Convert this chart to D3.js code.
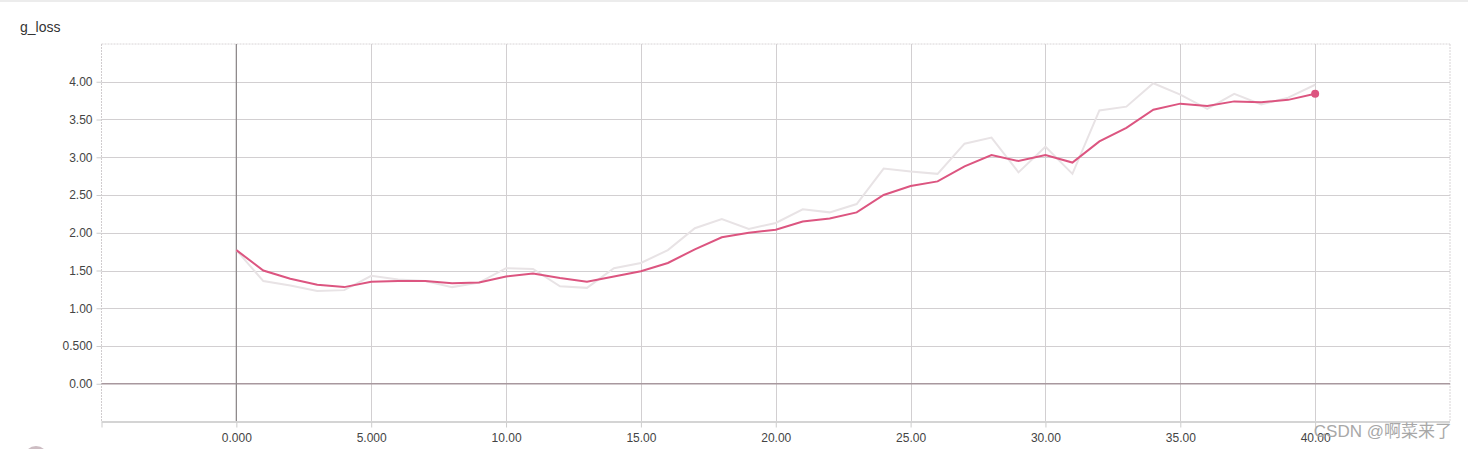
<!DOCTYPE html>
<html><head><meta charset="utf-8">
<script src="https://cdn.jsdelivr.net/npm/d3@7"></script>
<style>
html,body{margin:0;padding:0;background:#fff;}
svg{display:block;font-family:"Liberation Sans",Arial,sans-serif;}
</style></head>
<body>
<svg id="chart" width="1468" height="449"></svg>
<script>
const steps = d3.range(0, 41);
const rawValues = [1.77,1.36,1.30,1.23,1.24,1.43,1.38,1.36,1.28,1.34,1.53,1.52,1.29,1.27,1.53,1.60,1.77,2.06,2.18,2.05,2.13,2.31,2.27,2.38,2.85,2.81,2.78,3.18,3.26,2.80,3.14,2.78,3.62,3.67,3.98,3.83,3.64,3.84,3.70,3.79,3.96];
const smoothValues = [1.77,1.50,1.39,1.31,1.28,1.35,1.36,1.36,1.33,1.34,1.42,1.46,1.40,1.35,1.42,1.49,1.60,1.78,1.94,2.00,2.04,2.15,2.19,2.27,2.50,2.62,2.68,2.88,3.03,2.95,3.03,2.93,3.21,3.39,3.63,3.71,3.68,3.74,3.73,3.76,3.84];
const xTicks = [0,5,10,15,20,25,30,35,40];
const xTickLabels = ["0.000","5.000","10.00","15.00","20.00","25.00","30.00","35.00","40.00"];
const yTicks = [0,0.5,1,1.5,2,2.5,3,3.5,4];
const yTickLabels = ["0.00","0.500","1.00","1.50","2.00","2.50","3.00","3.50","4.00"];
const title = "g_loss";
const watermark = "CSDN @啊菜来了";

const svg = d3.select("#chart");
const x = d3.scaleLinear().domain([-5,45]).range([101.5,1450]);
const y = d3.scaleLinear().domain([-0.5,4.5]).range([421.5,44]);

// top shadow bar
svg.append("rect").attr("x",0).attr("y",0).attr("width",1468).attr("height",2).attr("fill","#ececec");

svg.append("text").attr("x",20).attr("y",32).attr("font-size",14).attr("fill","#333").text(title);

// frame dotted edges
const g = svg.append("g");
const dash = "2,1";
g.append("line").attr("x1",x(-5)).attr("x2",x(45)).attr("y1",y(4.5)).attr("y2",y(4.5)).attr("stroke","#d8d4d6").attr("stroke-dasharray",dash);
g.append("line").attr("x1",x(-5)).attr("x2",x(-5)).attr("y1",y(4.5)).attr("y2",y(-0.5)).attr("stroke","#d0ccce").attr("stroke-dasharray",dash);
g.append("line").attr("x1",x(45)).attr("x2",x(45)).attr("y1",y(4.5)).attr("y2",y(-0.5)).attr("stroke","#d8d4d6").attr("stroke-dasharray",dash);

// grid lines
g.selectAll(".hg").data(yTicks.filter(d=>d!==0)).enter().append("line")
  .attr("x1",x(-5)).attr("x2",x(45)).attr("y1",d=>Math.round(y(d))+0.5).attr("y2",d=>Math.round(y(d))+0.5)
  .attr("stroke","#d2cfd1");
g.selectAll(".vg").data(xTicks.filter(d=>d!==0)).enter().append("line")
  .attr("y1",y(4.5)).attr("y2",y(-0.5)).attr("x1",d=>Math.round(x(d))+0.5).attr("x2",d=>Math.round(x(d))+0.5)
  .attr("stroke","#d2cfd1");

// zero lines
g.append("line").attr("x1",x(-5)).attr("x2",x(45)).attr("y1",y(0)).attr("y2",y(0)).attr("stroke","#a8989e").attr("stroke-width",1.5);
g.append("line").attr("y1",y(4.5)).attr("y2",y(-0.5)).attr("x1",x(0)).attr("x2",x(0)).attr("stroke","#8f8a8c").attr("stroke-width",1.3);

// bottom axis line
g.append("line").attr("x1",x(-5)).attr("x2",x(45)).attr("y1",y(-0.5)+0.5).attr("y2",y(-0.5)+0.5).attr("stroke","#d4d4d4").attr("stroke-width",2);

// axes
const yAxis = d3.axisLeft(y).tickValues(yTicks).tickFormat((d,i)=>yTickLabels[i]).tickSize(5).tickPadding(4);
const ya = svg.append("g").attr("transform",`translate(${x(-5)},0)`).call(yAxis);
ya.select(".domain").remove();
ya.selectAll(".tick line").attr("stroke","#ccc");
ya.selectAll("text").attr("font-size",12).attr("fill","#444").attr("font-family","Liberation Sans, Arial, sans-serif");

const xAxis = d3.axisBottom(x).tickValues([-5].concat(xTicks)).tickFormat(d=>{const i=xTicks.indexOf(d);return i>=0?xTickLabels[i]:"";}).tickSize(5).tickPadding(6);
const xa = svg.append("g").attr("transform",`translate(0,${y(-0.5)+1})`).call(xAxis);
xa.select(".domain").remove();
xa.selectAll(".tick line").attr("stroke","#ccc");
xa.selectAll("text").attr("font-size",12).attr("fill","#444").attr("font-family","Liberation Sans, Arial, sans-serif");

// lines
const line = (vals)=>d3.line().x((d,i)=>x(steps[i])).y(d=>y(d))(vals);
svg.append("path").attr("d",line(rawValues)).attr("fill","none").attr("stroke","#e8e3e5").attr("stroke-width",2);
svg.append("path").attr("d",line(smoothValues)).attr("fill","none").attr("stroke","#dc5580").attr("stroke-width",2);
svg.append("circle").attr("cx",x(steps[40])).attr("cy",y(smoothValues[40])).attr("r",4).attr("fill","#dc5580");

// bottom-left partial circle
svg.append("circle").attr("cx",36).attr("cy",458).attr("r",12).attr("fill","#cdbdc3");

// watermark
svg.append("text").attr("x",1452).attr("y",437).attr("text-anchor","end").attr("font-size",17).attr("fill","#a8a8a8")
  .attr("font-family","Liberation Sans, 'Noto Sans CJK SC', sans-serif").text(watermark);
</script>
</body></html>
